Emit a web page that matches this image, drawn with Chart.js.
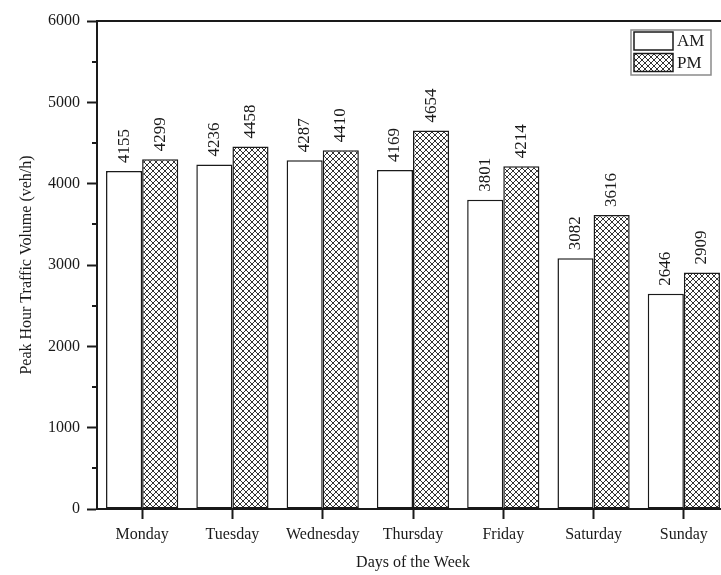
<!DOCTYPE html>
<html>
<head>
<meta charset="utf-8">
<script src="https://cdn.jsdelivr.net/npm/chart.js@4/dist/chart.umd.min.js"></script>
<style>
    html, body { margin: 0; padding: 0; overflow: hidden; background: #fff; }
    .wrap { width: 740px; height: 575px; position: relative; }
</style>
</head>
<body>
<div class="wrap"><canvas id="trafficChart"></canvas></div>
<script>
const days = ['Monday', 'Tuesday', 'Wednesday', 'Thursday', 'Friday', 'Saturday', 'Sunday'];
const amValues = [4155, 4236, 4287, 4169, 3801, 3082, 2646];
const pmValues = [4299, 4458, 4410, 4654, 4214, 3616, 2909];
const yTicks = [0, 1000, 2000, 3000, 4000, 5000, 6000];
const yMinorTicks = [500, 1500, 2500, 3500, 4500, 5500];

const serif = "'Liberation Serif', 'DejaVu Serif', serif";
const ink = '#1a1a1a';

// crosshatch fill for the PM bars
function makeHatch() {
    const size = 6;
    const c = document.createElement('canvas');
    c.width = size;
    c.height = size;
    const g = c.getContext('2d');
    g.fillStyle = '#ffffff';
    g.fillRect(0, 0, size, size);
    g.fillStyle = '#333333';
    for (let i = 0; i < size; i++) {
        g.fillRect(i, i, 1, 1);
        g.fillRect(size - 1 - i, i, 1, 1);
    }
    return g.createPattern(c, 'repeat');
}
const hatch = makeHatch();

// rotated value labels above each bar
const valueLabels = {
    id: 'valueLabels',
    afterDatasetsDraw(chart) {
        const ctx = chart.ctx;
        ctx.save();
        ctx.font = '17px ' + serif;
        ctx.fillStyle = ink;
        ctx.textAlign = 'left';
        ctx.textBaseline = 'middle';
        chart.data.datasets.forEach((ds, di) => {
            chart.getDatasetMeta(di).data.forEach((bar, i) => {
                ctx.save();
                ctx.translate(bar.x, bar.y - 8);
                ctx.rotate(-Math.PI / 2);
                ctx.fillText(String(ds.data[i]), 0, 0);
                ctx.restore();
            });
        });
        ctx.restore();
    }
};

// top frame line and minor y ticks
const frame = {
    id: 'frame',
    afterDraw(chart) {
        const ctx = chart.ctx;
        const area = chart.chartArea;
        const y = chart.scales.y;
        ctx.save();
        ctx.strokeStyle = ink;
        ctx.lineWidth = 2;
        ctx.beginPath();
        ctx.moveTo(area.left - 1, area.top);
        ctx.lineTo(area.right, area.top);
        ctx.stroke();
        yMinorTicks.forEach(v => {
            const py = Math.round(y.getPixelForValue(v));
            ctx.beginPath();
            ctx.moveTo(area.left - 5, py);
            ctx.lineTo(area.left, py);
            ctx.stroke();
        });
        ctx.restore();
    }
};

// boxed legend inside the plot, top right
const boxLegend = {
    id: 'boxLegend',
    afterDraw(chart) {
        const ctx = chart.ctx;
        const area = chart.chartArea;
        const w = 80, h = 45;
        const left = area.right - 18 - w;
        const top = area.top + 9;
        ctx.save();
        ctx.fillStyle = '#fff';
        ctx.fillRect(left, top, w, h);
        ctx.strokeStyle = '#8a8a8a';
        ctx.lineWidth = 1.5;
        ctx.strokeRect(left, top, w, h);
        ctx.font = '17px ' + serif;
        ctx.textBaseline = 'middle';
        chart.data.datasets.forEach((ds, i) => {
            const sy = top + 2 + i * 21.5;
            ctx.fillStyle = ds.backgroundColor;
            ctx.fillRect(left + 3, sy, 39, 18);
            ctx.strokeStyle = ink;
            ctx.lineWidth = 1.5;
            ctx.strokeRect(left + 3, sy, 39, 18);
            ctx.fillStyle = ink;
            ctx.fillText(ds.label, left + 46, sy + 10);
        });
        ctx.restore();
    }
};

const ctx = document.getElementById('trafficChart').getContext('2d');
new Chart(ctx, {
    type: 'bar',
    data: {
        labels: days,
        datasets: [
            {
                label: 'AM',
                data: amValues,
                backgroundColor: '#ffffff',
                borderColor: ink,
                borderWidth: 1.5,
                borderSkipped: false
            },
            {
                label: 'PM',
                data: pmValues,
                backgroundColor: hatch,
                borderColor: ink,
                borderWidth: 1.5,
                borderSkipped: false
            }
        ]
    },
    options: {
        responsive: true,
        maintainAspectRatio: false,
        animation: false,
        events: [],
        layout: {
            padding: { top: 21, right: 11, bottom: 0, left: 0 }
        },
        datasets: {
            bar: {
                categoryPercentage: 0.8,
                barPercentage: 1.0
            }
        },
        plugins: {
            legend: { display: false },
            tooltip: { enabled: false }
        },
        scales: {
            x: {
                afterFit(scale) { scale.height = 66; },
                border: { display: true, color: ink, width: 2 },
                grid: {
                    offset: false,
                    drawOnChartArea: false,
                    drawTicks: true,
                    tickLength: 10,
                    tickColor: ink,
                    tickWidth: 2
                },
                ticks: {
                    color: ink,
                    font: { family: serif, size: 16 },
                    padding: 6,
                    maxRotation: 0
                },
                title: {
                    display: true,
                    text: 'Days of the Week',
                    color: ink,
                    font: { family: serif, size: 16 },
                    padding: { top: 0, bottom: 3 }
                }
            },
            y: {
                min: 0,
                max: 6000,
                afterFit(scale) { scale.width = 97; },
                afterBuildTicks(scale) {
                    scale.ticks = yTicks.map(v => ({ value: v }));
                },
                border: { display: true, color: ink, width: 2 },
                grid: {
                    drawOnChartArea: false,
                    drawTicks: true,
                    tickLength: 10,
                    tickColor: ink,
                    tickWidth: 2
                },
                ticks: {
                    color: ink,
                    font: { family: serif, size: 16 },
                    padding: 7,
                    callback: v => String(v)
                },
                title: {
                    display: true,
                    text: 'Peak Hour Traffic Volume (veh/h)',
                    color: ink,
                    font: { family: serif, size: 16 },
                    padding: { top: 17, bottom: 0 }
                }
            }
        }
    },
    plugins: [valueLabels, frame, boxLegend]
});
</script>
</body>
</html>
